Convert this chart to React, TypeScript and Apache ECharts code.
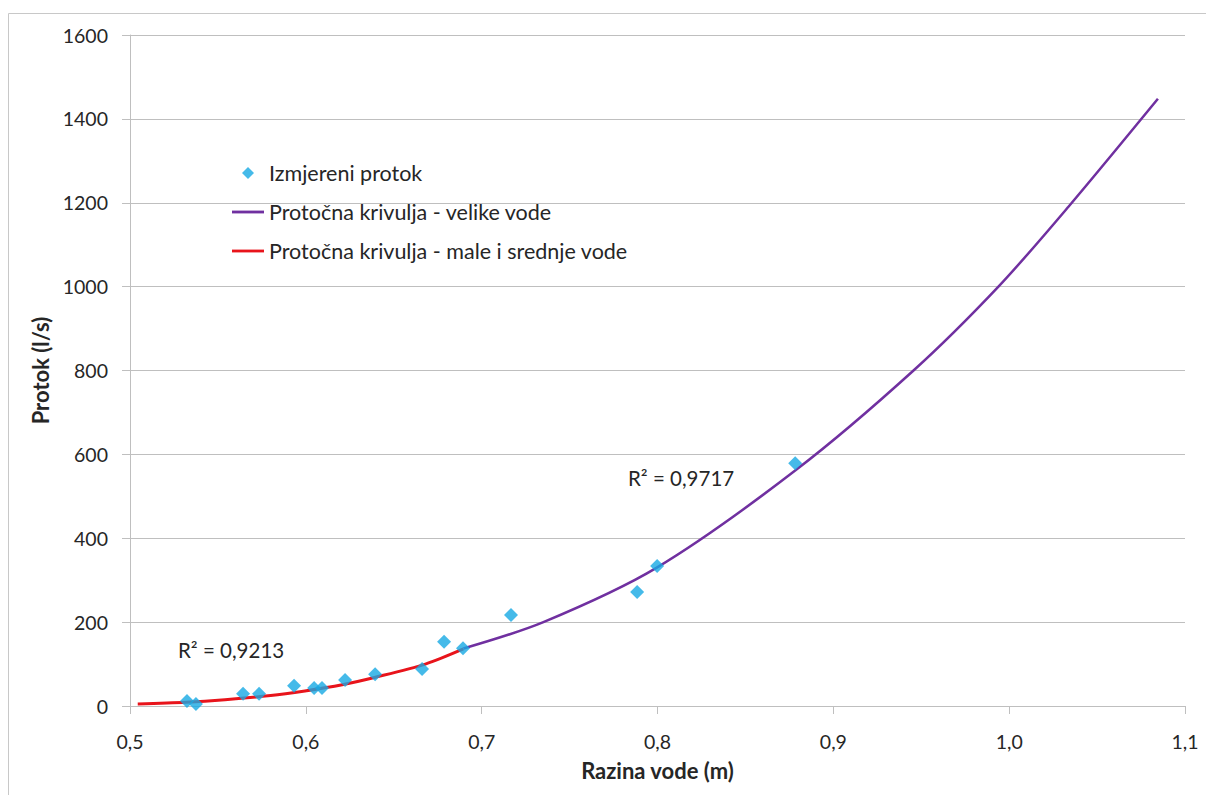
import React, { useEffect, useRef } from "react";
import * as echarts from "echarts";

const measuredLevel = [0.5324, 0.5375, 0.5643, 0.5734, 0.5933, 0.6047, 0.6092, 0.6223, 0.6394, 0.6661, 0.6786, 0.6894, 0.7167, 0.7884, 0.7998, 0.8783];
const measuredFlow = [12, 5, 29, 29, 48, 43, 43, 62, 76, 88, 153, 138, 217, 272, 334, 579];

const highLevel = [0.6896, 0.7351, 0.7996, 0.8785, 0.9456, 0.9939, 1.0336, 1.0846];
const highFlow = [137, 200, 330, 562, 800, 1000, 1190, 1448];

const lowLevel = [0.5044, 0.532, 0.554, 0.58, 0.5995, 0.62, 0.639, 0.668, 0.6896];
const lowFlow = [5, 9, 15, 25, 36, 50, 68, 100, 136];

const xTicks = [0.5, 0.6, 0.7, 0.8, 0.9, 1.0, 1.1];
const yTicks = [0, 200, 400, 600, 800, 1000, 1200, 1400, 1600];

const seriesNames = ["Izmjereni protok", "Protočna krivulja - velike vode", "Protočna krivulja - male i srednje vode"];
const r2Labels = ["R² = 0,9213", "R² = 0,9717"];

const FONT = "Lato, 'Open Sans', sans-serif";
const TEXT = "#262626";
const BLUE = "#17A9E3";
const PURPLE = "#7030A0";
const RED = "#E8141B";

const DIAMOND = "path://M6,0 L12,6 L6,12 L0,6 Z";
const BAR = "path://M0,0 L34,0 L34,3 L0,3 Z";

export default function App() {
  const ref = useRef<HTMLDivElement>(null);
  useEffect(() => {
    if (!ref.current) return;
    const chart = echarts.init(ref.current, null, { renderer: "svg" });
    const zip = (a: number[], b: number[]) => a.map((v, i) => [v, b[i]]);
    chart.setOption({
      animation: false,
      backgroundColor: "#ffffff",
      textStyle: { fontFamily: FONT },
      grid: { left: 130, right: 21, top: 35, bottom: 89 },
      legend: {
        orient: "vertical",
        left: 232,
        top: 162,
        padding: 0,
        itemWidth: 32,
        itemHeight: 12,
        itemGap: 17,
        symbolKeepAspect: true,
        textStyle: { fontFamily: FONT, fontSize: 21.5, color: TEXT },
        data: [
          { name: seriesNames[0], icon: DIAMOND },
          { name: seriesNames[1], icon: BAR },
          { name: seriesNames[2], icon: BAR },
        ],
      },
      xAxis: {
        type: "value",
        min: xTicks[0],
        max: xTicks[xTicks.length - 1],
        interval: 0.1,
        name: "Razina vode (m)",
        nameLocation: "middle",
        nameGap: 53,
        nameTextStyle: { fontFamily: FONT, fontSize: 22, fontWeight: "bold", color: TEXT },
        axisLine: { show: true, lineStyle: { color: "#BFBFBF", width: 1 } },
        axisTick: { show: true, length: 8, lineStyle: { color: "#BFBFBF" } },
        splitLine: { show: false },
        axisLabel: {
          fontFamily: FONT,
          fontSize: 19.5,
          color: TEXT,
          margin: 25,
          formatter: (v: number) => v.toFixed(1).replace(".", ","),
        },
      },
      yAxis: {
        type: "value",
        min: yTicks[0],
        max: yTicks[yTicks.length - 1],
        interval: 200,
        name: "Protok (l/s)",
        nameLocation: "middle",
        nameGap: 71,
        nameRotate: 90,
        nameTextStyle: { fontFamily: FONT, fontSize: 22, fontWeight: "bold", color: TEXT },
        axisLine: { show: true, lineStyle: { color: "#BFBFBF", width: 1 } },
        axisTick: { show: true, length: 8, lineStyle: { color: "#BFBFBF" } },
        splitLine: { show: true, lineStyle: { color: "#BFBFBF", width: 1 } },
        axisLabel: {
          fontFamily: FONT,
          fontSize: 19.5,
          color: TEXT,
          margin: 22,
          formatter: (v: number) => String(v),
        },
      },
      series: [
        {
          name: seriesNames[0],
          type: "scatter",
          symbol: "diamond",
          symbolSize: 14,
          itemStyle: { color: BLUE },
          data: zip(measuredLevel, measuredFlow),
          z: 3,
        },
        {
          name: seriesNames[1],
          type: "line",
          smooth: 0.3,
          symbol: "none",
          lineStyle: { color: PURPLE, width: 2.5 },
          itemStyle: { color: PURPLE },
          data: zip(highLevel, highFlow),
          z: 2,
        },
        {
          name: seriesNames[2],
          type: "line",
          smooth: 0.3,
          symbol: "none",
          lineStyle: { color: RED, width: 3 },
          itemStyle: { color: RED },
          data: zip(lowLevel, lowFlow),
          z: 2,
        },
      ],
      graphic: [
        {
          type: "rect",
          shape: { x: 8.5, y: 13.5, width: 1250, height: 800 },
          style: { fill: "none", stroke: "#C8C8C8", lineWidth: 1 },
          silent: true,
        },
        {
          type: "text",
          x: 178,
          y: 650,
          style: { text: r2Labels[0], font: `20.5px ${FONT}`, fill: TEXT, verticalAlign: "middle" },
        },
        {
          type: "text",
          x: 628,
          y: 478,
          style: { text: r2Labels[1], font: `20.5px ${FONT}`, fill: TEXT, verticalAlign: "middle" },
        },
      ],
    });
    return () => chart.dispose();
  }, []);
  return (
    <div
      ref={ref}
      style={{ position: "absolute", left: 0, top: 0, width: 1206, height: 795 }}
    />
  );
}
